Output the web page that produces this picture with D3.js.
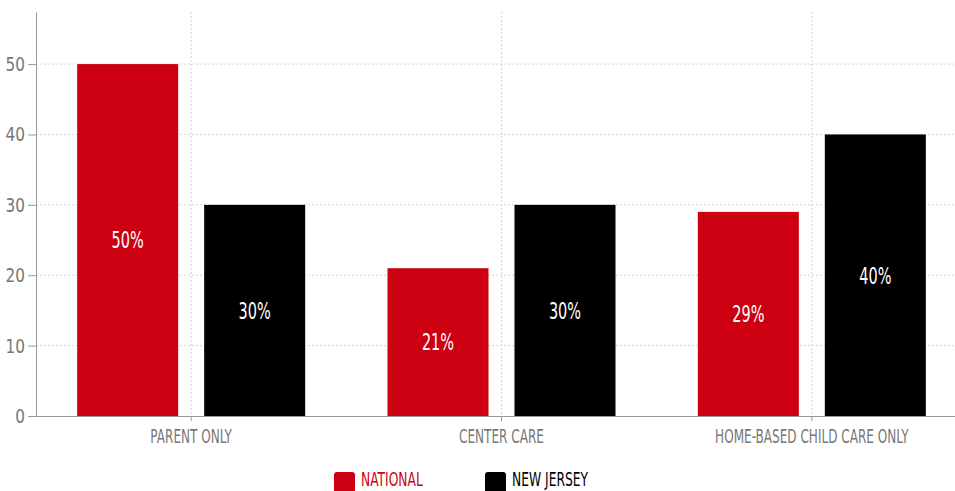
<!DOCTYPE html>
<html>
<head>
<meta charset="utf-8">
<script src="https://cdn.jsdelivr.net/npm/d3@7"></script>
<style>
  html, body { margin: 0; padding: 0; background: #fff; }
  svg { display: block; }
  text { font-family: "DejaVu Sans Condensed", "Liberation Sans Narrow", "Roboto", sans-serif; }
</style>
</head>
<body>
<svg id="chart" width="955" height="491"></svg>
<script>
// Share of children by primary care arrangement
const categories = ["PARENT ONLY", "CENTER CARE", "HOME-BASED CHILD CARE ONLY"];
const seriesNames = ["NATIONAL", "NEW JERSEY"];
const nationalValues = [50, 21, 29];
const newJerseyValues = [30, 30, 40];
const yTicks = [0, 10, 20, 30, 40, 50];
const seriesColors = ["#cc0011", "#000000"];

const svg = d3.select("#chart");
const plotLeft = 36, plotRight = 967, plotTop = 12, plotBottom = 416;

const x = d3.scaleBand().domain(categories).range([plotLeft, plotRight]);
const sub = d3.scaleBand().domain(seriesNames).range([-114, 114]).paddingInner(26 / 127);
const y = d3.scaleLinear().domain([0, 57.4]).range([plotBottom, plotTop]);

// narrow the lettering horizontally, keeping its anchor x in place
function condense(sel, k) {
  sel.each(function () {
    const t = d3.select(this);
    const x0 = +t.attr("x") || 0;
    t.attr("x", x0 / k).attr("transform", `scale(${k},1)`);
  });
}

// dotted grid
const grid = svg.append("g");
grid.selectAll("line.h").data(yTicks.filter(d => d > 0)).join("line")
  .attr("class", "h")
  .attr("x1", plotLeft).attr("x2", 955)
  .attr("y1", d => y(d)).attr("y2", d => y(d))
  .attr("stroke", "#d4d4d4").attr("stroke-width", 1).attr("stroke-dasharray", "2,2");
grid.selectAll("line.v").data(categories).join("line")
  .attr("class", "v")
  .attr("x1", d => x(d) + x.bandwidth() / 2).attr("x2", d => x(d) + x.bandwidth() / 2)
  .attr("y1", plotTop).attr("y2", plotBottom)
  .attr("stroke", "#d4d4d4").attr("stroke-width", 1).attr("stroke-dasharray", "2,2");

// bars
const rows = categories.map((c, i) => ({
  cat: c,
  vals: [
    { s: seriesNames[0], v: nationalValues[i], color: seriesColors[0] },
    { s: seriesNames[1], v: newJerseyValues[i], color: seriesColors[1] }
  ]
}));
const groups = svg.append("g").selectAll("g").data(rows).join("g")
  .attr("transform", d => `translate(${x(d.cat) + x.bandwidth() / 2},0)`);
groups.selectAll("rect").data(d => d.vals).join("rect")
  .attr("x", d => sub(d.s))
  .attr("width", sub.bandwidth())
  .attr("y", d => y(d.v))
  .attr("height", d => y(0) - y(d.v))
  .attr("fill", d => d.color);
const valueLabels = groups.selectAll("text").data(d => d.vals).join("text")
  .attr("x", d => sub(d.s) + sub.bandwidth() / 2)
  .attr("y", d => (y(d.v) + y(0)) / 2)
  .attr("dy", "0.36em")
  .attr("text-anchor", "middle")
  .attr("fill", "#fff")
  .attr("font-size", 23)
  .text(d => d.v + "%");
condense(valueLabels, 0.7);

// axes
const yAxis = svg.append("g").attr("transform", `translate(${plotLeft},0)`)
  .call(d3.axisLeft(y).tickValues(yTicks).tickSize(8).tickSizeOuter(0).tickPadding(3));
const xAxis = svg.append("g").attr("transform", `translate(0,${plotBottom})`)
  .call(d3.axisBottom(x).tickSize(5).tickSizeOuter(0).tickPadding(8));
[yAxis, xAxis].forEach(a => {
  a.select(".domain").attr("stroke", "#999");
  a.selectAll(".tick line").attr("stroke", "#999");
  a.selectAll(".tick text").attr("fill", "#777").attr("font-size", 20)
    .style("font-family", "'DejaVu Sans Condensed', 'Liberation Sans Narrow', sans-serif");
});
condense(yAxis.selectAll(".tick text"), 0.85);
condense(xAxis.selectAll(".tick text"), 0.67);

// legend
const legend = svg.append("g");
const legX = [334, 485];
seriesNames.forEach((n, i) => {
  legend.append("rect").attr("x", legX[i]).attr("y", 472).attr("width", 21).attr("height", 21)
    .attr("rx", 3).attr("fill", seriesColors[i]);
  const t = legend.append("text").attr("x", legX[i] + 27).attr("y", 479.5).attr("dy", "0.36em")
    .attr("fill", seriesColors[i]).attr("font-size", 19).text(n);
  condense(t, 0.72);
});
</script>
</body>
</html>
